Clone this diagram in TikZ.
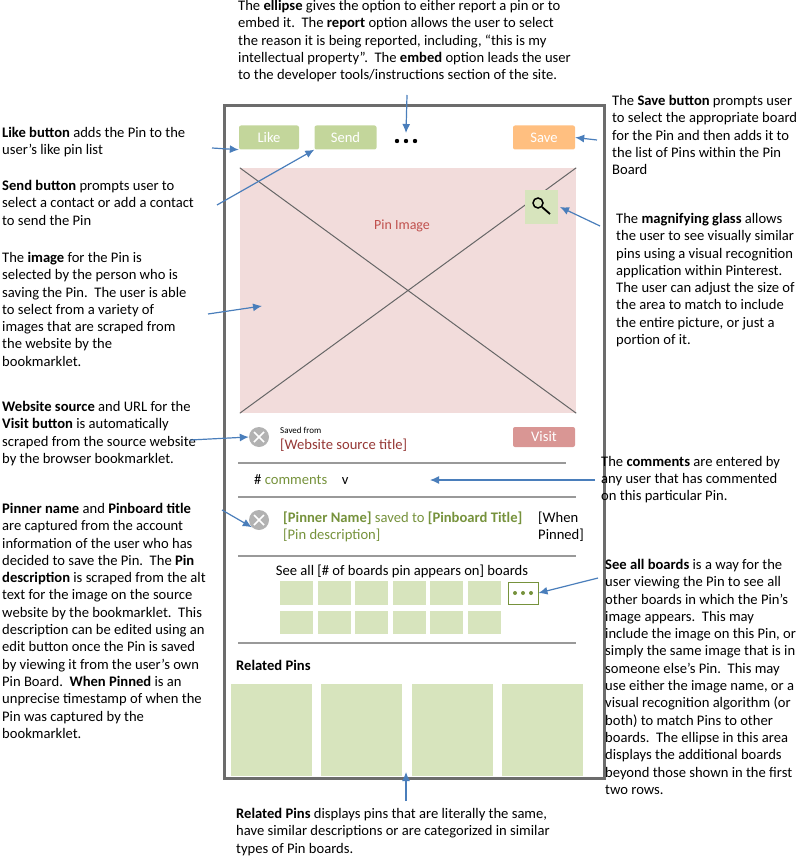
\documentclass[tikz,border=0pt]{standalone}
\usepackage{fontspec}
\setmainfont{Carlito}
\begin{document}
\begin{tikzpicture}[x=1pt,y=-1pt,
 note/.style={anchor=north west,align=left,inner sep=0pt,font=\fontsize{14.6}{17.3}\selectfont},
 arr/.style={draw=arrowblue,line width=1.2pt,-{Latex[length=9pt,width=8pt]}},
 btn/.style={minimum width=60pt,minimum height=24pt,rounded corners=2pt,inner sep=0pt,text=white,font=\fontsize{14.6}{16}\selectfont},
 cell/.style={fill=cellgreen,draw=none},
 sep/.style={draw=gray!80,line width=1.3pt}]
\usetikzlibrary{arrows.meta}
\definecolor{arrowblue}{HTML}{4A7EBB}
\definecolor{cellgreen}{HTML}{D7E4BD}
\definecolor{btngreen}{HTML}{C3D69B}
\definecolor{pinkbg}{HTML}{F2DCDB}
\definecolor{redtxt}{HTML}{C0504D}
\definecolor{darkred}{HTML}{953735}
\definecolor{greentxt}{HTML}{76923C}
\useasboundingbox (0,0) rectangle (798,861);
% phone frame
\draw[line width=3pt,gray!85!black] (224,106) rectangle (604,778);
\node[btn,fill=btngreen] (like) at (269,137.5) {Like};
\node[btn,fill=btngreen,minimum width=62pt] (send) at (345.5,137.5) {Send};
\foreach \x in {397,406,415} \fill (\x,141) circle (2.2pt);
\coordinate (dots) at (406,133);
\node[btn,fill=orange!50!white,minimum width=62pt] (save) at (544,137.5) {Save};
% image
\node[fill=pinkbg,minimum width=336pt,minimum height=245pt,inner sep=0pt] (img) at (408,290.5) {};
\draw[gray!80!black,line width=1pt] (img.north west) -- (img.south east) (img.north east) -- (img.south west);
\node[text=redtxt,font=\fontsize{14}{16}\selectfont] (pinimg) at (402,226) {Pin Image};
\node[fill=cellgreen,minimum width=33pt,minimum height=34pt,inner sep=0pt] (mag) at (541,207) {};
\draw[line width=1.5pt] (538,203) circle (5pt);
\draw[line width=1.8pt] (542,207) -- (550,214);
% saved from
\node[circle,fill=gray!60,minimum size=20pt,inner sep=0pt] (c1) at (259,437) {};
\draw[white,line width=1.5pt] (254,432)--(264,442) (264,432)--(254,442);
\node[anchor=west,font=\fontsize{9}{10}\selectfont,inner sep=0pt] (savedfrom) at (280,430) {Saved from};
\node[anchor=west,text=darkred,font=\fontsize{14.6}{16}\selectfont,inner sep=0pt] (wst) at (280,445) {[Website source title]};
\node[btn,fill=redtxt!60!white,minimum width=62pt,minimum height=20pt] (visit) at (544,437) {Visit};
\draw[sep] (238,463) -- (566,463);
\node[anchor=west,inner sep=0pt,font=\fontsize{14.6}{16}\selectfont] (comm) at (254,480) {\# \textcolor{greentxt}{comments}\quad v};
\draw[sep] (238,497) -- (576,497);
% pinner
\node[circle,fill=gray!60,minimum size=20pt,inner sep=0pt] (c2) at (259,520) {};
\draw[white,line width=1.5pt] (254,515)--(264,525) (264,515)--(254,525);
\node[anchor=north west,align=left,inner sep=0pt,text=greentxt,font=\fontsize{14.6}{17}\selectfont] (pinner) at (283,512) {\textbf{[Pinner Name]} saved to \textbf{[Pinboard Title]}\\\relax [Pin description]};
\node[anchor=north west,align=left,inner sep=0pt,font=\fontsize{14.6}{17}\selectfont] (when) at (538,512) {[When\\Pinned]};
\draw[sep] (238,556) -- (576,556);
\node[font=\fontsize{14.6}{16}\selectfont,inner sep=0pt] (seeall) at (402,571) {See all [\# of boards pin appears on] boards};
\foreach \x in {280,318,355,393,430,468}{
 \fill[cellgreen] (\x,581) rectangle ++(33,24);
 \fill[cellgreen] (\x,611) rectangle ++(33,23);}
\node[draw=greentxt,line width=1pt,fill=white,minimum width=30pt,minimum height=22pt,inner sep=0pt] (ell) at (523,593) {};
\foreach \x in {515,523,531} \fill[greentxt] (\x,593) circle (2pt);
\draw[sep] (238,643) -- (576,643);
\node[anchor=west,inner sep=0pt,font=\bfseries\fontsize{14.6}{16}\selectfont] (related) at (236,665) {Related Pins};
\foreach \x/\n in {231/r1,321/r2,412/r3,502/r4}
 \node[fill=cellgreen,minimum width=81pt,minimum height=92pt,inner sep=0pt,anchor=north west] (\n) at (\x,684) {};
% notes
\node[note] (ntop) at (238,0) {The \textbf{ellipse} gives the option to either report a pin or to\\embed it.\ \ The \textbf{report} option allows the user to select\\the reason it is being reported, including, “this is my\\intellectual property”.\ \ The \textbf{embed} option leads the user\\to the developer tools/instructions section of the site.};
\node[note] (nlike) at (2,127) {\textbf{Like button} adds the Pin to the\\user’s like pin list};
\node[note] (nsend) at (2,180) {\textbf{Send button} prompts user to\\select a contact or add a contact\\to send the Pin};
\node[note] (nimg) at (2,252) {The \textbf{image} for the Pin is\\selected by the person who is\\saving the Pin.\ \ The user is able\\to select from a variety of\\images that are scraped from\\the website by the\\bookmarklet.};
\node[note] (nweb) at (2,401) {\textbf{Website source} and URL for the\\\textbf{Visit button} is automatically\\scraped from the source website\\by the browser bookmarklet.};
\node[note] (npin) at (2,503) {\textbf{Pinner name} and \textbf{Pinboard title}\\are captured from the account\\information of the user who has\\decided to save the Pin.\ \ The \textbf{Pin}\\\textbf{description} is scraped from the alt\\text for the image on the source\\website by the bookmarklet.\ \ This\\description can be edited using an\\edit button once the Pin is saved\\by viewing it from the user’s own\\Pin Board.\ \ \textbf{When Pinned} is an\\unprecise timestamp of when the\\Pin was captured by the\\bookmarklet.};
\node[note] (nsave) at (612,95) {The \textbf{Save button} prompts user\\to select the appropriate board\\for the Pin and then adds it to\\the list of Pins within the Pin\\Board};
\node[note] (nmag) at (616,213) {The \textbf{magnifying glass} allows\\the user to see visually similar\\pins using a visual recognition\\application within Pinterest.\\The user can adjust the size of\\the area to match to include\\the entire picture, or just a\\portion of it.};
\node[note] (ncomm) at (601,456) {The \textbf{comments} are entered by\\any user that has commented\\on this particular Pin.};
\node[note] (nsee) at (605,559) {\textbf{See all boards} is a way for the\\user viewing the Pin to see all\\other boards in which the Pin’s\\image appears.\ \ This may\\include the image on this Pin, or\\simply the same image that is in\\someone else’s Pin.\ \ This may\\use either the image name, or a\\visual recognition algorithm (or\\both) to match Pins to other\\boards.\ \ The ellipse in this area\\displays the additional boards\\beyond those shown in the first\\two rows.};
\node[note] (nrel) at (236,808) {\textbf{Related Pins} displays pins that are literally the same,\\have similar descriptions or are categorized in similar\\types of Pin boards.};
% arrows
\coordinate (a1) at (407,95); \draw[arr] (a1) -- (dots);
\coordinate (a2) at (212,148); \draw[arr] (a2) -- (like.south west);
\coordinate (a3) at (217,205); \draw[arr] (a3) -- (send.south west);
\coordinate (a4) at (208,314); \draw[arr] (a4) -- (262,306);
\coordinate (a5) at (190,440); \draw[arr] (a5) -- (c1.west);
\coordinate (a6) at (222,510); \draw[arr] (a6) -- (c2.south west);
\coordinate (a7) at (597,140); \draw[arr] (a7) -- (save.east);
\coordinate (a8) at (600,226); \draw[arr] (a8) -- (560,207);
\coordinate (a9) at (595,480); \draw[arr] (a9) -- (430,480);
\coordinate (a10) at (598,578); \draw[arr] (a10) -- (ell.east);
\coordinate (a11) at (406,801); \draw[arr] (a11) -- (406,772);
\end{tikzpicture}
\end{document}
